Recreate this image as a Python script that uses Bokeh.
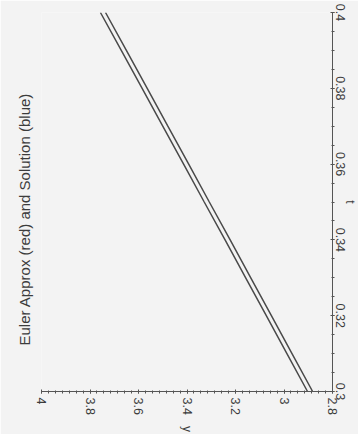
from bokeh.plotting import figure
from bokeh.models import Range1d, FixedTicker
from bokeh.embed import file_html
from bokeh.resources import INLINE

# data
t_vals = [0.30, 0.31, 0.32, 0.33, 0.34, 0.35, 0.36, 0.37, 0.38, 0.39, 0.40]
solution_y = [2.903, 2.988, 3.073, 3.158, 3.243, 3.329, 3.414, 3.500, 3.585, 3.671, 3.757]
euler_y = [2.882, 2.967, 3.052, 3.137, 3.222, 3.308, 3.393, 3.479, 3.564, 3.650, 3.736]

y_ticks = [2.8, 3.0, 3.2, 3.4, 3.6, 3.8, 4.0]
y_tick_labels = ["2.8", "3", "3.2", "3.4", "3.6", "3.8", "4"]
t_ticks = [0.30, 0.32, 0.34, 0.36, 0.38, 0.40]
t_tick_labels = ["0.3", "0.32", "0.34", "0.36", "0.38", "0.4"]
title_text = "Euler Approx (red) and Solution (blue)"

BG = "#f3f3f3"
INK = "#3c3c3c"
FONT = "Liberation Sans"

p = figure(frame_width=291, frame_height=379,
           x_range=Range1d(4.0, 2.8), y_range=Range1d(0.3, 0.4),
           output_backend="svg", toolbar_location=None,
           x_axis_location="below", y_axis_location="right",
           min_border_left=41, min_border_top=12, min_border_right=2, min_border_bottom=2,
           title=title_text, title_location="left")
p.background_fill_color = BG
p.border_fill_color = BG
p.outline_line_color = None
p.grid.visible = False

p.title.align = "left"
p.title.offset = 46
p.title.standoff = 18
p.title.text_font = FONT
p.title.text_font_size = "15px"
p.title.text_font_style = "normal"
p.title.text_color = INK

# horizontal axis shows y values (rotated chart)
xa = p.xaxis[0]
x_minor = [2.8 + i * 0.2 / 7 for i in range(43)]
xa.ticker = FixedTicker(ticks=y_ticks, minor_ticks=x_minor)
xa.major_label_overrides = {v: s for v, s in zip(y_ticks, y_tick_labels)}
xa.axis_label = "y"
xa.major_label_standoff = 4
xa.axis_label_standoff = 8

ya = p.yaxis[0]
t_minor = [0.3 + i * 0.005 for i in range(21)]
ya.ticker = FixedTicker(ticks=t_ticks, minor_ticks=t_minor)
ya.major_label_overrides = {v: s for v, s in zip(t_ticks, t_tick_labels)}
ya.axis_label = "t"
ya.major_label_standoff = 1
ya.axis_label_standoff = -5

for ax in (xa, ya):
    ax.major_label_orientation = "vertical"
    try:
        ax.axis_label_orientation = "vertical"
    except Exception:
        pass
    ax.axis_line_color = "#555555"
    ax.major_tick_line_color = "#555555"
    ax.minor_tick_line_color = "#555555"
    ax.major_tick_in = 2
    ax.major_tick_out = 2
    ax.minor_tick_in = 1
    ax.minor_tick_out = 2
    ax.major_label_text_font = FONT
    ax.major_label_text_font_size = "12.5px"
    ax.major_label_text_color = INK
    ax.axis_label_text_font = FONT
    ax.axis_label_text_font_size = "12px"
    ax.axis_label_text_font_style = "normal"
    ax.axis_label_text_color = INK

p.line(solution_y, t_vals, line_color="#4a4a4a", line_width=1.5)
p.line(euler_y, t_vals, line_color="#4a4a4a", line_width=1.5)

open("out.html", "w").write(file_html(p, INLINE))
